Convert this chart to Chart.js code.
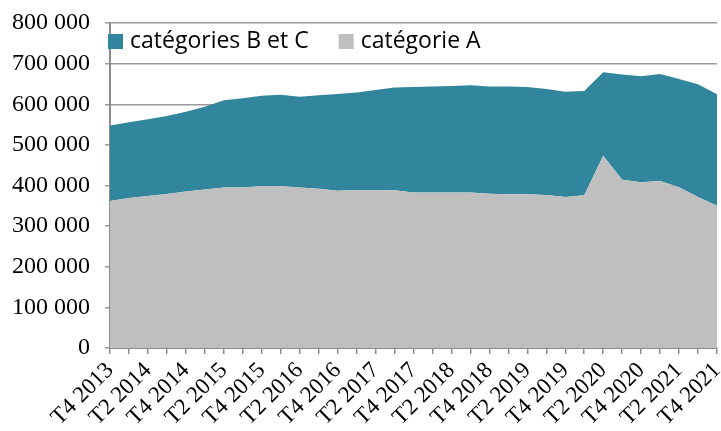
<!DOCTYPE html>
<html>
<head>
<meta charset="utf-8">
<script src="https://cdn.jsdelivr.net/npm/chart.js@4/dist/chart.umd.min.js"></script>
<style>
html,body{margin:0;padding:0;background:#fff;}
#wrap{width:721px;height:431px;position:relative;}
</style>
</head>
<body>
<div id="wrap"><canvas id="c" width="721" height="431"></canvas></div>
<script>
const quarters = [
  "T4 2013","T1 2014","T2 2014","T3 2014","T4 2014","T1 2015","T2 2015","T3 2015","T4 2015",
  "T1 2016","T2 2016","T3 2016","T4 2016","T1 2017","T2 2017","T3 2017","T4 2017",
  "T1 2018","T2 2018","T3 2018","T4 2018","T1 2019","T2 2019","T3 2019","T4 2019",
  "T1 2020","T2 2020","T3 2020","T4 2020","T1 2021","T2 2021","T3 2021","T4 2021"
];
const categorieA = [
  362000,369000,374000,379000,385000,390000,395000,395000,399000,
  399000,395000,392000,387000,389000,389000,388500,383000,
  382500,383000,383000,380000,378500,378500,376500,372000,
  376000,473000,414000,408000,411000,396000,372000,350000
];
const categoriesBC = [
  186000,186500,189000,192000,196500,204000,215000,219500,222000,
  224500,223500,230000,238000,240000,246000,252500,259500,
  261500,262000,264000,264000,265500,264000,261000,259000,
  256600,205600,259000,261000,263500,266000,277000,274500
];
const yTicks = [0,100000,200000,300000,400000,500000,600000,700000,800000];

const fmt = v => String(v).replace(/\B(?=(\d{3})+(?!\d))/g, ' ');

const legendPlugin = {
  id: 'insideLegend',
  afterDatasetsDraw(chart) {
    const ctx = chart.ctx, ca = chart.chartArea;
    const items = [chart.data.datasets[1], chart.data.datasets[0]];
    ctx.save();
    ctx.font = '23px "Open Sans"';
    ctx.textBaseline = 'middle';
    ctx.textAlign = 'left';
    let x = ca.left - 2;
    const cy = ca.top + 18.5;
    const box = 15;
    items.forEach(ds => {
      ctx.fillStyle = ds.backgroundColor;
      ctx.fillRect(x, cy - box / 2, box, box);
      ctx.fillStyle = '#000';
      ctx.fillText(ds.label, x + box + 7, cy);
      x += box + 7 + ctx.measureText(ds.label).width + 30;
    });
    ctx.restore();
  }
};

new Chart(document.getElementById('c'), {
  type: 'line',
  data: {
    labels: quarters,
    datasets: [
      {
        label: 'catégorie A',
        data: categorieA,
        backgroundColor: '#bfbfbf',
        borderColor: '#bfbfbf',
        borderWidth: 0,
        pointRadius: 0,
        fill: 'origin',
        tension: 0
      },
      {
        label: 'catégories B et C',
        data: categoriesBC,
        backgroundColor: '#31859c',
        borderColor: '#31859c',
        borderWidth: 0,
        pointRadius: 0,
        fill: '-1',
        tension: 0
      }
    ]
  },
  options: {
    responsive: false,
    animation: false,
    layout: { padding: { top: 23, right: 4, left: 0, bottom: 0 } },
    plugins: {
      legend: { display: false },
      tooltip: { enabled: false }
    },
    scales: {
      x: {
        offset: false,
        grid: {
          drawOnChartArea: false,
          drawTicks: true,
          tickLength: 6,
          color: '#8c8c8c',
          lineWidth: 1.5
        },
        border: { display: true, color: '#8c8c8c', width: 2 },
        ticks: {
          autoSkip: false,
          minRotation: 45,
          maxRotation: 45,
          padding: 3,
          color: '#000',
          font: { family: '"Liberation Serif", "Times New Roman", serif', size: 23 },
          callback: function (v, i) { return i % 2 === 0 ? quarters[i] : ''; }
        },
        afterFit(scale) { scale.height = 83; scale.paddingRight = 0; scale.paddingLeft = 0; }
      },
      y: {
        stacked: true,
        min: 0,
        max: 800000,
        afterBuildTicks(scale) { scale.ticks = yTicks.map(v => ({ value: v })); },
        grid: {
          drawOnChartArea: true,
          drawTicks: true,
          tickLength: 5,
          color: '#9a9a9a',
          lineWidth: 1.5
        },
        border: { display: true, color: '#8c8c8c', width: 2 },
        ticks: {
          padding: 15,
          color: '#000',
          font: { family: '"Liberation Serif", "Times New Roman", serif', size: 24 },
          callback: v => fmt(v)
        },
        afterFit(scale) { scale.width = 110; scale.paddingTop = 0; scale.paddingBottom = 0; }
      }
    }
  },
  plugins: [legendPlugin]
});
</script>
</body>
</html>
